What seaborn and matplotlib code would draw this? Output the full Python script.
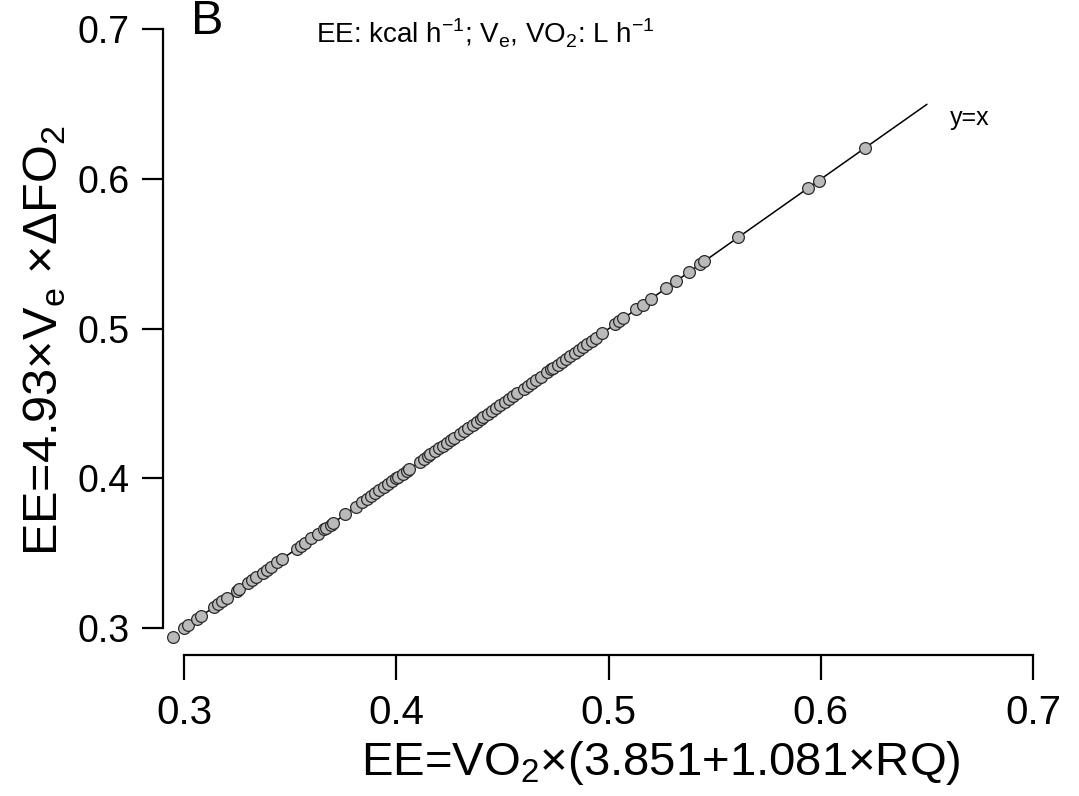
import numpy as np
import pandas as pd
import matplotlib
matplotlib.use("Agg")
import matplotlib.pyplot as plt
import seaborn as sns

# EE from respiratory quotient (x) vs EE from ventilation (y), kcal/h
ee_rq = [0.295, 0.300, 0.302, 0.306, 0.308, 0.314, 0.316, 0.318, 0.320, 0.325,
         0.326, 0.330, 0.332, 0.334, 0.337, 0.339, 0.341, 0.344, 0.346, 0.353,
         0.355, 0.357, 0.360, 0.363, 0.366, 0.367, 0.369, 0.370, 0.376, 0.381,
         0.384, 0.386, 0.388, 0.390, 0.392, 0.394, 0.396, 0.398, 0.400, 0.401,
         0.403, 0.405, 0.406, 0.411, 0.413, 0.415, 0.416, 0.418, 0.420, 0.422,
         0.424, 0.426, 0.427, 0.430, 0.432, 0.434, 0.436, 0.438, 0.440, 0.441,
         0.443, 0.445, 0.447, 0.449, 0.451, 0.453, 0.455, 0.457, 0.460, 0.462,
         0.464, 0.466, 0.468, 0.471, 0.473, 0.474, 0.476, 0.478, 0.480, 0.482,
         0.484, 0.486, 0.488, 0.490, 0.492, 0.494, 0.497, 0.503, 0.505, 0.507,
         0.513, 0.516, 0.520, 0.527, 0.532, 0.538, 0.543, 0.545, 0.561, 0.594,
         0.599, 0.621]
ee_ve = [0.294, 0.300, 0.302, 0.306, 0.308, 0.314, 0.316, 0.318, 0.320, 0.325,
         0.326, 0.330, 0.332, 0.334, 0.337, 0.339, 0.341, 0.344, 0.346, 0.353,
         0.355, 0.357, 0.360, 0.363, 0.366, 0.367, 0.369, 0.370, 0.376, 0.381,
         0.384, 0.386, 0.388, 0.390, 0.392, 0.394, 0.396, 0.398, 0.400, 0.401,
         0.403, 0.405, 0.406, 0.411, 0.413, 0.415, 0.416, 0.418, 0.420, 0.422,
         0.424, 0.426, 0.427, 0.430, 0.432, 0.434, 0.436, 0.438, 0.440, 0.441,
         0.443, 0.445, 0.447, 0.449, 0.451, 0.453, 0.455, 0.457, 0.460, 0.462,
         0.464, 0.466, 0.468, 0.471, 0.473, 0.474, 0.476, 0.478, 0.480, 0.482,
         0.484, 0.486, 0.488, 0.490, 0.492, 0.494, 0.497, 0.503, 0.505, 0.507,
         0.513, 0.516, 0.520, 0.527, 0.532, 0.538, 0.543, 0.545, 0.561, 0.594,
         0.599, 0.621]
line_x = [0.3, 0.65]
ticks = [0.3, 0.4, 0.5, 0.6, 0.7]
tick_labels = ["0.3", "0.4", "0.5", "0.6", "0.7"]

df = pd.DataFrame({"rq": ee_rq, "ve": ee_ve})
line_df = pd.DataFrame({"x": line_x, "y": line_x})

sns.set_theme(style="ticks")
plt.rcParams["font.family"] = ["Liberation Sans", "DejaVu Sans"]
plt.rcParams["mathtext.fontset"] = "custom"
plt.rcParams["mathtext.rm"] = "Liberation Sans"
plt.rcParams["text.color"] = "black"
plt.rcParams["axes.labelcolor"] = "black"

fig = plt.figure(figsize=(10.79, 7.96), dpi=100)
ax = fig.add_axes([0.1511, 0.1771, 0.8156, 0.7921])

sns.lineplot(data=line_df, x="x", y="y", ax=ax, color="black", linewidth=1.1)
sns.scatterplot(data=df, x="rq", y="ve", ax=ax, s=72, color="#bababa",
                edgecolor="#2a2a2a", linewidth=0.9, zorder=3)

ax.set_xlim(0.2901, 0.7047)
ax.set_ylim(0.282, 0.7033)
for side in ["top", "right"]:
    ax.spines[side].set_visible(False)
for side in ["left", "bottom"]:
    ax.spines[side].set_bounds(0.3, 0.7)
    ax.spines[side].set_linewidth(1.6)
    ax.spines[side].set_color("black")

ax.set_xticks(ticks)
ax.set_yticks(ticks)
ax.set_xticklabels(tick_labels, fontsize=29)
ax.set_yticklabels(tick_labels, fontsize=27)
ax.tick_params(axis="x", length=18, width=1.6, pad=10, colors="black", labelcolor="black")
ax.tick_params(axis="y", length=15, width=1.6, pad=9, colors="black", labelcolor="black")
ax.set_xlabel("")
ax.set_ylabel("")

fig.text(0.6126, 0.041, r"EE=VO$_\mathregular{2}$×(3.851+1.081×RQ)",
         fontsize=34, ha="center", va="center")
fig.text(0.042, 0.572, r"EE=4.93×V$_\mathregular{e}$ ×ΔFO$_\mathregular{2}$",
         fontsize=35, ha="center", va="center", rotation=90)

ax.text(0.661, 0.6406, "y=x", fontsize=18, ha="left", va="center")
ax.text(0.3035, 0.7055, "B", fontsize=35, ha="left", va="center", clip_on=False)
ax.text(0.4418, 0.6975,
        r"EE: kcal h$^\mathregular{-1}$; V$_\mathregular{e}$, VO$_\mathregular{2}$: L h$^\mathregular{-1}$",
        fontsize=20, ha="center", va="center", clip_on=False)

plt.savefig("out.png", dpi=100)
